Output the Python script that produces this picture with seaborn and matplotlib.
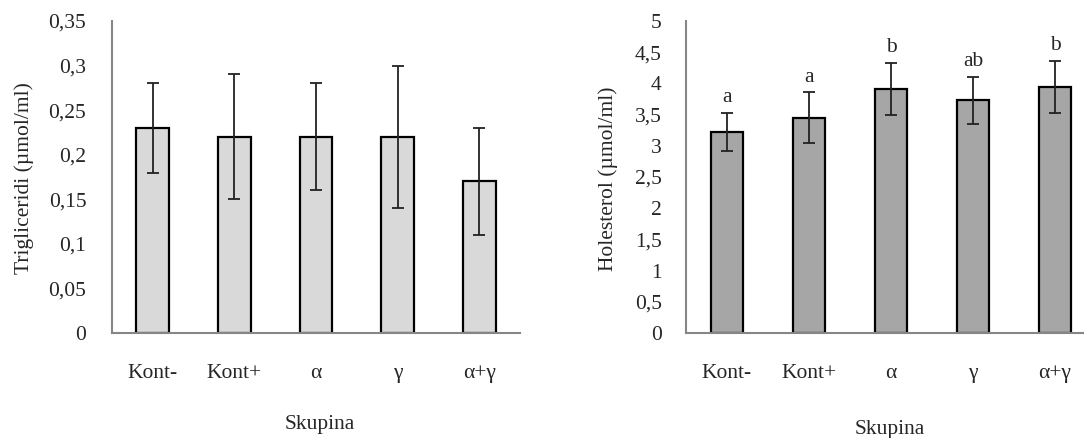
import numpy as np
import pandas as pd
import matplotlib
matplotlib.use("Agg")
import matplotlib.pyplot as plt
import seaborn as sns

groups = ["Kont-", "Kont+", "α", "γ", "α+γ"]
tg_mean = [0.23, 0.22, 0.22, 0.22, 0.17]
tg_err = [0.05, 0.07, 0.06, 0.08, 0.06]
hol_mean = [3.22, 3.45, 3.91, 3.73, 3.94]
hol_err = [0.31, 0.41, 0.42, 0.38, 0.42]
hol_letters = ["a", "a", "b", "ab", "b"]

tg_ticks = [0, 0.05, 0.1, 0.15, 0.2, 0.25, 0.3, 0.35]
tg_ticklabels = ["0", "0,05", "0,1", "0,15", "0,2", "0,25", "0,3", "0,35"]
hol_ticks = [0, 0.5, 1, 1.5, 2, 2.5, 3, 3.5, 4, 4.5, 5]
hol_ticklabels = ["0", "0,5", "1", "1,5", "2", "2,5", "3", "3,5", "4", "4,5", "5"]

sns.set_style("white")
plt.rcParams["font.family"] = ["Liberation Serif", "DejaVu Serif"]
FS = 15.5
AX_GRAY = "#868686"

W, H = 1084, 438
fig = plt.figure(figsize=(W / 100, H / 100), dpi=100)

def px_axes(x0, y0, x1, y1):
    return fig.add_axes([x0 / W, 1 - y1 / H, (x1 - x0) / W, (y1 - y0) / H])

ax1 = px_axes(112, 21, 520, 333)
ax2 = px_axes(686, 21, 1096, 333)

df1 = pd.DataFrame({"Skupina": groups, "val": tg_mean})
df2 = pd.DataFrame({"Skupina": groups, "val": hol_mean})

configs = [
    (ax1, df1, tg_err, "#d9d9d9", tg_ticks, tg_ticklabels, "Trigliceridi (µmol/ml)",
     -0.215, (0.51, -0.263), 13.5),
    (ax2, df2, hol_err, "#a6a6a6", hol_ticks, hol_ticklabels, "Holesterol (µmol/ml)",
     -0.19, (0.4976, -0.279), 12.5),
]

for ax, df, err, color, ticks, labels, ylab, ylx, xlc, ypad in configs:
    sns.barplot(data=df, x="Skupina", y="val", color=color, width=0.4,
                edgecolor="black", linewidth=1.6, errorbar=None, ax=ax,
                saturation=1)
    ax.errorbar(x=np.arange(len(groups)), y=df["val"], yerr=err, fmt="none",
                ecolor="#222222", elinewidth=1.3, capsize=4.0, capthick=1.3,
                zorder=5)
    ax.set_xlim(-0.5, len(groups) - 0.5)
    ax.set_ylim(ticks[0], ticks[-1])
    ax.set_yticks(ticks)
    ax.set_yticklabels(labels, fontsize=FS)
    ax.tick_params(axis="y", length=5, width=1.2, color=AX_GRAY, direction="out", pad=ypad)
    ax.tick_params(axis="x", length=0, pad=22, labelsize=FS)
    ax.set_ylabel(ylab, fontsize=FS, va="center")
    ax.yaxis.set_label_coords(ylx, 0.495)
    ax.set_xlabel("Skupina", fontsize=FS, va="top")
    ax.xaxis.set_label_coords(*xlc)
    for s in ["top", "right"]:
        ax.spines[s].set_visible(False)
    for s in ["left", "bottom"]:
        ax.spines[s].set_color(AX_GRAY)
        ax.spines[s].set_linewidth(1.5)
    ax.grid(False)

for i, (m, e, t) in enumerate(zip(hol_mean, hol_err, hol_letters)):
    ax2.annotate(t, xy=(i, m + e), xytext=(0, 4), textcoords="offset points",
                 ha="center", va="bottom", fontsize=FS)

fig.savefig("out.png", dpi=100)
